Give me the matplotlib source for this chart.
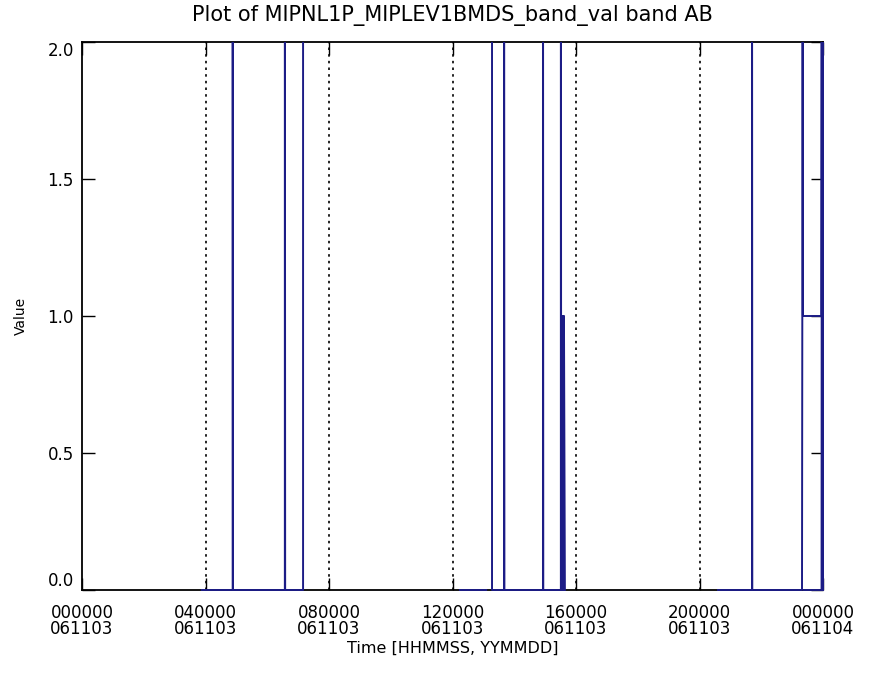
import numpy as np
from matplotlib import pyplot as plt
from matplotlib.transforms import Bbox, TransformedBbox

nan = np.nan

# time in hours since 000000 061103, value (spikes go above the 2.0 top and get clipped)
times = [3.88, 4.88, 4.88, 4.89, 6.57, 6.57, 6.58, 7.16, 7.16, nan,
         12.24, 13.09, nan,
         13.28, 13.28, 13.29, 13.67, 13.67, 13.68, 14.93, 14.93, 14.94,
         15.51, 15.51, 15.52, 15.55, 15.56, 15.57, 15.58, 15.59, 15.60, 15.61, 15.64, nan,
         20.60, 21.70, 21.70, 21.71, 23.32, 23.33, 23.34, 23.35, 23.95, 23.96, 23.96,
         23.97, 23.98, 23.99, 24.00]
values = [0, 0, 3, 0, 0, 3, 0, 0, 3, nan,
          0, 0, nan,
          3, 0, 0, 0, 3, 0, 0, 3, 0,
          0, 3, 0, 1, 0, 1, 0, 1, 0, 1, 0, nan,
          0, 0, 3, 0, 0, 1, 3, 1, 1, 3, 0,
          3, 0, 3, 0]
base_start = [23.38]
base_end = [23.92]

xticks = [0, 4, 8, 12, 16, 20, 24]
xticklabels = ['000000\n061103', '040000\n061103', '080000\n061103', '120000\n061103',
               '160000\n061103', '200000\n061103', '000000\n061104']
grid_hours = [4, 8, 12, 16, 20]
yticks = [0.0, 0.5, 1.0, 1.5, 2.0]

fig = plt.figure(figsize=(8.73, 6.75), dpi=100)
ax = fig.add_axes([82/873, 1-590/675, 741/873, 548/675])

line_col = '#1c1c86'
for g in grid_hours:
    ax.axvline(g, color='black', linestyle=(0, (1.5, 2.5)), linewidth=1.2)
clip = TransformedBbox(Bbox([[0, -0.01], [1.003, 1]]), ax.transAxes)
for xs, ys in [(times, values), ([base_start[0], base_end[0]], [0, 0])]:
    ln, = ax.plot(xs, ys, color=line_col, linewidth=1.4, zorder=3)
    ln.set_clip_box(clip)

ax.set_xlim(0, 24)
ax.set_ylim(0, 2.0)
ax.set_xticks(xticks)
ax.set_xticklabels(xticklabels, fontsize=12, linespacing=0.9)
ax.set_yticks(yticks)
ylabels = ax.set_yticklabels(['%.1f' % v for v in yticks], fontsize=12)
ylabels[0].set_va('bottom')
ylabels[-1].set_va('top')
ax.tick_params(direction='in', length=9, width=1, top=True, right=True, pad=10)
ax.tick_params(axis='y', pad=6)
for s in ax.spines.values():
    s.set_linewidth(1.3)

ax.set_xlabel('Time [HHMMSS, YYMMDD]', fontsize=11.5, labelpad=2)
ax.set_ylabel('Value', fontsize=10, labelpad=14)
ax.set_title('Plot of MIPNL1P_MIPLEV1BMDS_band_val band AB', fontsize=15, pad=15)

fig.savefig('out.png', dpi=100)
